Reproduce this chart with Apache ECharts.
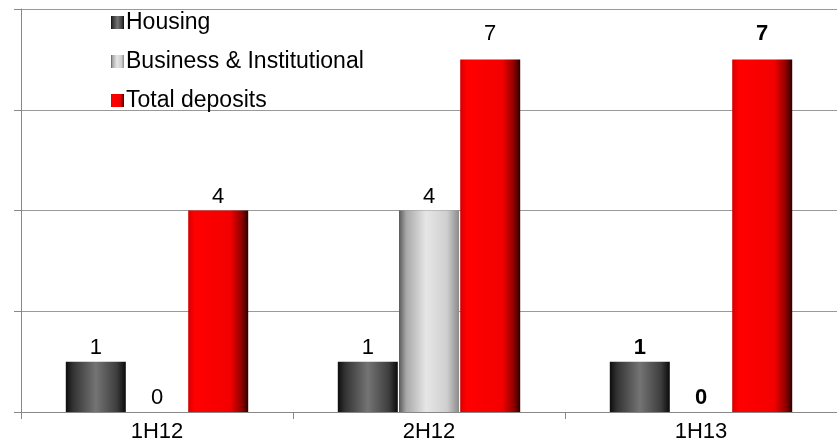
<!DOCTYPE html>
<html>
<head>
<meta charset="utf-8">
<script src="https://cdn.jsdelivr.net/npm/echarts@6/dist/echarts.min.js"></script>
<style>
  html, body { margin: 0; padding: 0; background: #fff; }
  #chart { width: 837px; height: 445px; }
</style>
</head>
<body>
<div id="chart"></div>
<script>
// Periods on the category axis
const periods = ['1H12', '2H12', '1H13'];

// Series values per period
const housing = [1, 1, 1];
const business = [0, 4, 0];
const totalDeposits = [4, 7, 7];

// Value axis range
const yMin = 0;
const yMax = 8;
const yStep = 2;

const FONT = '"Liberation Sans", Arial, sans-serif';

function hGrad(stops) {
  return new echarts.graphic.LinearGradient(0, 0, 1, 0,
    stops.map(([offset, color]) => ({ offset, color })));
}

const housingFill = hGrad([
  [0, '#0d0d0d'], [0.12, '#333333'], [0.5, '#747474'], [0.85, '#3e3e3e'], [1, '#0a0a0a']
]);
const businessFill = hGrad([
  [0, '#5a5a5a'], [0.12, '#a8a8a8'], [0.45, '#e6e6e6'], [0.8, '#cfcfcf'], [1, '#8a8a8a']
]);
const depositsFill = hGrad([
  [0, '#d40000'], [0.1, '#ff0000'], [0.7, '#f40000'], [0.9, '#8a0000'], [1, '#2a0000']
]);

// Last period's value labels are bold; tall bars keep a wider gap above the label
function buildData(values, tallGap) {
  return values.map((v, i) => {
    const label = { fontWeight: i === values.length - 1 ? 'bold' : 'normal' };
    if (tallGap && v >= 7) label.distance = 14;
    return { value: v, label };
  });
}

const baseLabel = {
  show: true,
  position: 'top',
  distance: 3,
  color: '#000',
  fontFamily: FONT,
  fontSize: 22
};

const chart = echarts.init(document.getElementById('chart'), null, { renderer: 'canvas' });

chart.setOption({
  animation: false,
  backgroundColor: '#fff',
  grid: { left: 21, right: 0, top: 9, bottom: 33, containLabel: false },
  legend: {
    orient: 'vertical',
    left: 106,
    top: 6,
    itemWidth: 13,
    itemHeight: 13,
    itemGap: 16,
    icon: 'rect',
    textStyle: { color: '#000', fontFamily: FONT, fontSize: 23, padding: [0, 0, 0, -3] },
    data: ['Housing', 'Business & Institutional', 'Total deposits']
  },
  xAxis: {
    type: 'category',
    data: periods,
    axisLine: { show: true, lineStyle: { color: '#888', width: 1 } },
    axisTick: { show: true, length: 7, lineStyle: { color: '#888' } },
    axisLabel: { color: '#000', fontFamily: FONT, fontSize: 22, margin: 9 }
  },
  yAxis: {
    type: 'value',
    min: yMin,
    max: yMax,
    interval: yStep,
    axisLine: { show: true, lineStyle: { color: '#888', width: 1 } },
    axisTick: { show: true, length: 7, lineStyle: { color: '#888' } },
    axisLabel: { show: false },
    splitLine: { show: true, lineStyle: { color: '#999', width: 1 } }
  },
  series: [
    {
      name: 'Housing',
      type: 'bar',
      barWidth: 60,
      barGap: '2%',
      itemStyle: { color: housingFill },
      label: baseLabel,
      data: buildData(housing, false)
    },
    {
      name: 'Business & Institutional',
      type: 'bar',
      barWidth: 60,
      barGap: '2%',
      itemStyle: { color: businessFill },
      label: baseLabel,
      data: buildData(business, false)
    },
    {
      name: 'Total deposits',
      type: 'bar',
      barWidth: 60,
      barGap: '2%',
      itemStyle: { color: depositsFill },
      label: baseLabel,
      data: buildData(totalDeposits, true)
    }
  ]
});
</script>
</body>
</html>
